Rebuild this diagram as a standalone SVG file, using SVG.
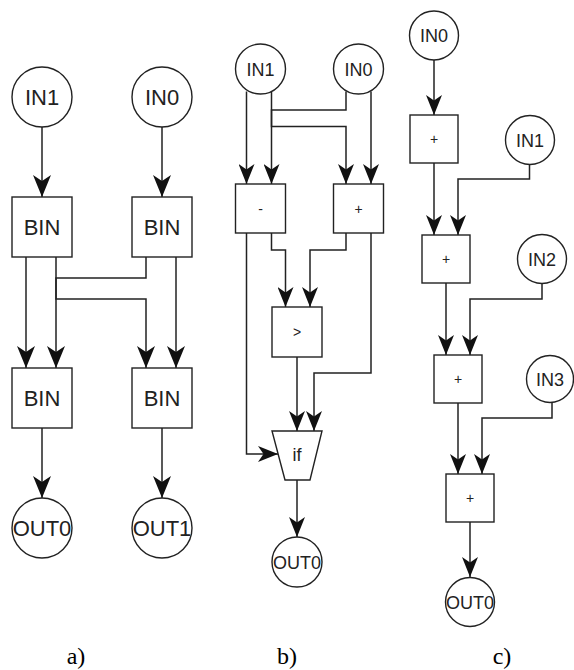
<svg xmlns="http://www.w3.org/2000/svg" width="574" height="670" viewBox="0 0 574 670">
<defs>
<marker id="ahA" markerUnits="userSpaceOnUse" viewBox="0 0 22 18" markerWidth="22" markerHeight="18" refX="22" refY="9" orient="auto"><path d="M0,0 L22,9 L0,18 L6,9 Z" fill="#111"/></marker>
<marker id="ahB" markerUnits="userSpaceOnUse" viewBox="0 0 20 16" markerWidth="20" markerHeight="16" refX="20" refY="8" orient="auto"><path d="M0,0 L20,8 L0,16 L5.5,8 Z" fill="#111"/></marker>
<style>
.n{fill:#fff;stroke:#222;stroke-width:1.4}
.e{fill:none;stroke:#222;stroke-width:1.5}
.a{marker-end:url(#ahA)}
.b{marker-end:url(#ahB)}
.tA{font-family:"Liberation Sans",Arial,sans-serif;font-size:22px;fill:#222;text-anchor:middle}
.tB{font-family:"Liberation Sans",Arial,sans-serif;font-size:18px;fill:#222;text-anchor:middle}
.tO{font-family:"Liberation Sans",Arial,sans-serif;font-size:14px;fill:#222;text-anchor:middle}
.cap{font-family:"Liberation Serif","Times New Roman",serif;font-size:24px;fill:#000;text-anchor:middle}
</style>
</defs>
<g id="connectors">
<path class="e a" d="M42,127 V197"/>
<path class="e a" d="M162,127 V197"/>
<path class="e a" d="M26,257 V368"/>
<path class="e a" d="M56,257 V299 H146 V368"/>
<path class="e a" d="M146,257 V278 H56 V368"/>
<path class="e a" d="M176,257 V368"/>
<path class="e a" d="M42,428 V498"/>
<path class="e a" d="M162,428 V498"/>
<path class="e b" d="M246.5,91.5 V184"/>
<path class="e b" d="M271.5,91.5 V126.5 H346 V184"/>
<path class="e b" d="M346,91.5 V110 H271.5 V184"/>
<path class="e b" d="M371,91.5 V184"/>
<path class="e b" d="M246.5,233 V454 H278"/>
<path class="e b" d="M271.5,233 V250 H285.5 V307"/>
<path class="e b" d="M346,233 V250 H310 V307"/>
<path class="e b" d="M371,233 V373 H314 V431"/>
<path class="e b" d="M297,357 V431"/>
<path class="e b" d="M297,480 V537"/>
<path class="e b" d="M434,60 V115"/>
<path class="e b" d="M434,163 V235"/>
<path class="e b" d="M529.5,164 V179 H458 V235"/>
<path class="e b" d="M446,283 V355"/>
<path class="e b" d="M542,283 V299 H470 V355"/>
<path class="e b" d="M458,403 V474"/>
<path class="e b" d="M552,403 V418 H482 V474"/>
<path class="e b" d="M470,522 V577"/>
</g>
<g id="a_IN1"><circle class="n" cx="42" cy="97" r="30"/><text class="tA" x="42" y="105">IN1</text></g>
<g id="a_IN0"><circle class="n" cx="162" cy="97" r="30"/><text class="tA" x="162" y="105">IN0</text></g>
<g id="a_BIN1"><rect class="n" x="12" y="197" width="60" height="60"/><text class="tA" x="42" y="235">BIN</text></g>
<g id="a_BIN2"><rect class="n" x="132" y="197" width="60" height="60"/><text class="tA" x="162" y="235">BIN</text></g>
<g id="a_BIN3"><rect class="n" x="12" y="368" width="60" height="60"/><text class="tA" x="42" y="406">BIN</text></g>
<g id="a_BIN4"><rect class="n" x="132" y="368" width="60" height="60"/><text class="tA" x="162" y="406">BIN</text></g>
<g id="a_OUT0"><circle class="n" cx="42" cy="528" r="30"/><text class="tA" x="42" y="536">OUT0</text></g>
<g id="a_OUT1"><circle class="n" cx="162" cy="528" r="30"/><text class="tA" x="162" y="536">OUT1</text></g>
<g id="b_IN1"><circle class="n" cx="260.5" cy="69" r="25"/><text class="tB" x="260.5" y="75.5">IN1</text></g>
<g id="b_IN0"><circle class="n" cx="358.5" cy="69" r="25"/><text class="tB" x="358.5" y="75.5">IN0</text></g>
<g id="b_sub"><rect class="n" x="235.5" y="184" width="50" height="49"/><text class="tO" x="260.5" y="213.5">-</text></g>
<g id="b_add"><rect class="n" x="333.5" y="184" width="50" height="49"/><text class="tO" x="358.5" y="213.5">+</text></g>
<g id="b_gt"><rect class="n" x="272" y="307" width="50" height="50"/><text class="tO" x="297" y="337">&gt;</text></g>
<g id="b_if"><path class="n" d="M272,431 H322 L310,480 H285 Z"/><text class="tB" x="297" y="461">if</text></g>
<g id="b_OUT0"><circle class="n" cx="297" cy="562" r="25"/><text class="tB" x="297" y="568.5">OUT0</text></g>
<g id="c_IN0"><circle class="n" cx="434" cy="35.5" r="24.5"/><text class="tB" x="434" y="42">IN0</text></g>
<g id="c_add1"><rect class="n" x="410" y="115" width="48" height="48"/><text class="tO" x="434" y="144">+</text></g>
<g id="c_IN1"><circle class="n" cx="530" cy="140" r="24.5"/><text class="tB" x="530" y="146.5">IN1</text></g>
<g id="c_add2"><rect class="n" x="422" y="235" width="48" height="48"/><text class="tO" x="446" y="264">+</text></g>
<g id="c_IN2"><circle class="n" cx="542" cy="259" r="24.5"/><text class="tB" x="542" y="265.5">IN2</text></g>
<g id="c_add3"><rect class="n" x="434" y="355" width="48" height="48"/><text class="tO" x="458" y="384">+</text></g>
<g id="c_IN3"><circle class="n" cx="550" cy="379" r="23.5"/><text class="tB" x="550" y="385.5">IN3</text></g>
<g id="c_add4"><rect class="n" x="446" y="474" width="48" height="48"/><text class="tO" x="470" y="503">+</text></g>
<g id="c_OUT0"><circle class="n" cx="470" cy="602" r="24.5"/><text class="tB" x="470" y="608.5">OUT0</text></g>
<g id="captions">
<text class="cap" x="76" y="664">a)</text>
<text class="cap" x="287" y="664">b)</text>
<text class="cap" x="502" y="664">c)</text>
</g>
</svg>
